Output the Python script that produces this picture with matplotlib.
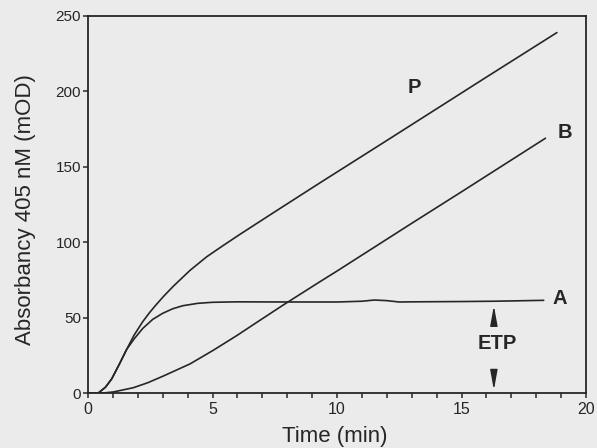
import matplotlib
matplotlib.use("Agg")
import matplotlib.pyplot as plt
from matplotlib.ticker import MultipleLocator

plt.rcParams["font.family"] = ["Liberation Sans", "DejaVu Sans"]

# curve P
p_time = [0, 0.4, 0.7, 0.95, 1.25, 1.55, 1.85, 2.2, 2.45, 2.7, 3.05, 3.43, 4.1, 4.77, 5.4, 6.1, 7.44, 9.32, 12, 14, 16, 18.83]
p_abs = [0, 0, 4, 9.5, 19, 29, 38.5, 47.5, 53, 58, 64.5, 71, 81.5, 90.5, 97.6, 105.3, 119.6, 139.5, 167.5, 188.5, 209.5, 239]

# curve A
a_time = [0, 0.4, 0.7, 0.95, 1.25, 1.55, 1.85, 2.2, 2.6, 3.0, 3.4, 3.8, 4.4, 5.0, 6, 8, 10, 11, 11.5, 12, 12.5, 13, 15, 16.3, 18.3]
a_abs = [0, 0, 4, 9.5, 19, 29, 36, 43, 49, 53, 56, 58, 59.6, 60.3, 60.6, 60.5, 60.5, 61, 61.8, 61.4, 60.5, 60.6, 60.8, 61, 61.6]

# curve B
b_time = [0, 0.5, 1.02, 1.82, 2.4, 3.02, 3.5, 4.1, 5.03, 6.0, 6.64, 7.84, 9.32, 10, 12.94, 15, 18.37]
b_abs = [0, 0, 0.9, 3.7, 7, 11.4, 15, 19.5, 28.5, 38.5, 45.5, 58.5, 74, 81, 112, 133.5, 169]

curve_labels = ["P", "B", "A"]
label_pos = [(13.1, 202.5), (19.15, 172.6), (18.95, 62.5)]

ink = "#262626"
paper = "#ebebeb"

fig = plt.figure(figsize=(5.97, 4.48), dpi=100, facecolor=paper)
ax = fig.add_axes([0.1474, 0.1221, 0.8342, 0.8422], facecolor=paper)

for t, v in [(p_time, p_abs), (a_time, a_abs), (b_time, b_abs)]:
    ax.plot(t, v, color=ink, linewidth=1.2, solid_joinstyle="round", solid_capstyle="round")

for name, (x, y) in zip(curve_labels, label_pos):
    ax.text(x, y, name, fontsize=14.5, fontweight="bold", color=ink, ha="center", va="center")

# ETP marker between the plateau and the baseline
ax.text(16.45, 32.7, "ETP", fontsize=14.5, fontweight="bold", color=ink, ha="center", va="center")
arrow_style = dict(arrowstyle="-|>,head_length=1.2,head_width=0.22", color=ink, lw=1.0,
                   mutation_scale=10, shrinkA=0, shrinkB=0)
ax.annotate("", xy=(16.3, 58), xytext=(16.3, 47.5), arrowprops=arrow_style)
ax.annotate("", xy=(16.3, 2.2), xytext=(16.3, 15.5), arrowprops=arrow_style)

ax.set_xlim(0, 20)
ax.set_ylim(0, 250)
ax.xaxis.set_major_locator(MultipleLocator(5))
ax.xaxis.set_minor_locator(MultipleLocator(1))
ax.yaxis.set_major_locator(MultipleLocator(50))

ax.tick_params(axis="x", which="both", direction="out", length=3.5, width=1.1, color=ink,
               labelsize=11.5, pad=3, labelcolor=ink, top=False)
ax.tick_params(axis="y", direction="out", length=3.5, width=1.1, color=ink,
               labelsize=11, pad=1.5, labelcolor=ink, right=False)

for side in ["left", "right", "top", "bottom"]:
    ax.spines[side].set_linewidth(1.3)
    ax.spines[side].set_color(ink)

fig.text(335 / 597, 1 - 436 / 448, "Time (min)", fontsize=16, color=ink, ha="center", va="center")
fig.text(26 / 597, 1 - 210 / 448, "Absorbancy 405 nM (mOD)", fontsize=16, color=ink,
         ha="center", va="center", rotation=90)

fig.savefig("out.png", dpi=100, facecolor=paper)
